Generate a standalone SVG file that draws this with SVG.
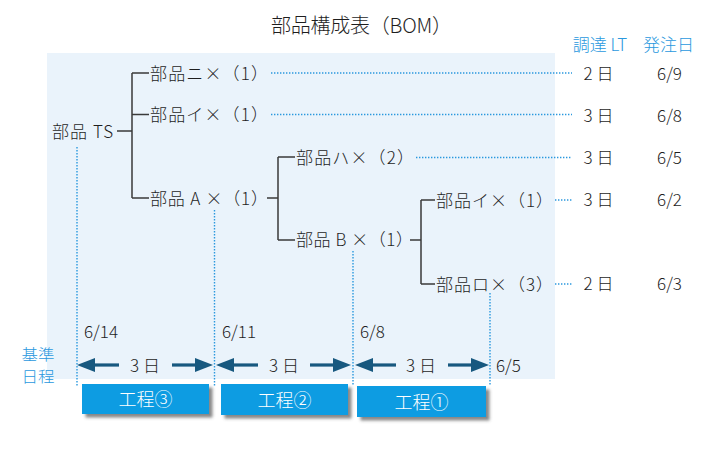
<svg xmlns="http://www.w3.org/2000/svg" width="720" height="458" viewBox="0 0 720 458">
<style>
text{font-family:"Noto Sans CJK JP","Noto Sans",sans-serif;fill:#1e1e1e;font-weight:300}
.lbl{font-size:17px}
.blue{fill:#2a98de;font-size:17px}
.blue2{fill:#2a98de;font-size:15px}
.tree{stroke:#3a3a3a;stroke-width:1.5;fill:none}
.dot{stroke:#2a98de;stroke-width:1.4;stroke-dasharray:1.4 1.6;fill:none}
.arr{fill:#17587f}
.shaft{stroke:#17587f;stroke-width:3.2}
.box{fill:#0b9ce2}
.btxt{fill:#fff;font-size:18px}
</style>
<defs>
<filter id="sh" x="-10%" y="-20%" width="130%" height="160%">
<feDropShadow dx="3.5" dy="3.5" stdDeviation="1.5" flood-color="#555" flood-opacity="0.7"/>
</filter>
</defs>
<rect x="47" y="53" width="508" height="326" fill="#eaf3fb"/>
<text x="271" y="33" font-size="20" textLength="181" lengthAdjust="spacing">部品構成表（BOM）</text>
<text class="blue" x="600" y="51" text-anchor="middle">調達 LT</text>
<text class="blue" x="668.5" y="51" text-anchor="middle">発注日</text>
<text class="blue2" x="38" y="360" text-anchor="middle" textLength="33" lengthAdjust="spacingAndGlyphs">基準</text>
<text class="blue2" x="38" y="382" text-anchor="middle" textLength="33" lengthAdjust="spacingAndGlyphs">日程</text>

<g id="connectors">
<path class="tree" d="M117 131H132M132 73V198M132 73H149M132 114.5H149M132 198H149"/>
<path class="tree" d="M267 198H278M278 157V240M278 157H295M278 240H295"/>
<path class="tree" d="M410 240H421M421 200V284M421 200H435M421 284H435"/>
<path class="dot" d="M271 73H572M271 114.5H572M416 157.5H572M555 200H572M555 284H572"/>
<path class="dot" d="M77 147V386M214.5 210V386M353 251V386M490 293V386"/>
</g>

<g id="n-ts"><text class="lbl" x="52" y="137.5" textLength="61" lengthAdjust="spacing">部品 TS</text></g>
<g id="n-ni"><text class="lbl" x="150" y="79.5" textLength="118" lengthAdjust="spacing">部品ニ×（1）</text></g>
<g id="n-i1"><text class="lbl" x="150" y="121" textLength="118" lengthAdjust="spacing">部品イ×（1）</text></g>
<g id="n-a"><text class="lbl" x="150" y="204.5" textLength="118" lengthAdjust="spacing">部品 A ×（1）</text></g>
<g id="n-ha"><text class="lbl" x="296" y="164" textLength="118" lengthAdjust="spacing">部品ハ×（2）</text></g>
<g id="n-b"><text class="lbl" x="296" y="246" textLength="117" lengthAdjust="spacing">部品 B ×（1）</text></g>
<g id="n-i2"><text class="lbl" x="436" y="206.5" textLength="117" lengthAdjust="spacing">部品イ×（1）</text></g>
<g id="n-ro"><text class="lbl" x="436" y="290.5" textLength="117" lengthAdjust="spacing">部品ロ×（3）</text></g>

<g id="lt">
<text class="lbl" x="598.5" y="80" text-anchor="middle">2 日</text>
<text class="lbl" x="598.5" y="122" text-anchor="middle">3 日</text>
<text class="lbl" x="598.5" y="164" text-anchor="middle">3 日</text>
<text class="lbl" x="598.5" y="206" text-anchor="middle">3 日</text>
<text class="lbl" x="598.5" y="290" text-anchor="middle">2 日</text>
</g>
<g id="order">
<text class="lbl" x="669.5" y="80" text-anchor="middle">6/9</text>
<text class="lbl" x="669.5" y="122" text-anchor="middle">6/8</text>
<text class="lbl" x="669.5" y="164" text-anchor="middle">6/5</text>
<text class="lbl" x="669.5" y="206" text-anchor="middle">6/2</text>
<text class="lbl" x="669.5" y="290" text-anchor="middle">6/3</text>
</g>

<g id="dates">
<text class="lbl" x="84" y="338">6/14</text>
<text class="lbl" x="222" y="338">6/11</text>
<text class="lbl" x="360" y="338">6/8</text>
<text class="lbl" x="496" y="372">6/5</text>
</g>

<g id="span1">
<polygon class="arr" points="77,365 95,358 95,372"/>
<line class="shaft" x1="94" y1="365" x2="119" y2="365"/>
<text class="lbl" x="145" y="372" text-anchor="middle">3 日</text>
<line class="shaft" x1="172" y1="365" x2="196" y2="365"/>
<polygon class="arr" points="213,365 195,358 195,372"/>
</g>
<g id="span2">
<polygon class="arr" points="216,365 234,358 234,372"/>
<line class="shaft" x1="233" y1="365" x2="258" y2="365"/>
<text class="lbl" x="284" y="372" text-anchor="middle">3 日</text>
<line class="shaft" x1="310" y1="365" x2="334" y2="365"/>
<polygon class="arr" points="351,365 333,358 333,372"/>
</g>
<g id="span3">
<polygon class="arr" points="355,365 373,358 373,372"/>
<line class="shaft" x1="372" y1="365" x2="396" y2="365"/>
<text class="lbl" x="421" y="372" text-anchor="middle">3 日</text>
<line class="shaft" x1="448" y1="365" x2="472" y2="365"/>
<polygon class="arr" points="489,365 471,358 471,372"/>
</g>

<g id="p3">
<rect class="box" x="82" y="384" width="127" height="30" filter="url(#sh)"/>
<text class="btxt" x="145.5" y="406" text-anchor="middle">工程③</text>
</g>
<g id="p2">
<rect class="box" x="221" y="384" width="127" height="31" filter="url(#sh)"/>
<text class="btxt" x="284.5" y="406.5" text-anchor="middle">工程②</text>
</g>
<g id="p1">
<rect class="box" x="357" y="386" width="129" height="31" filter="url(#sh)"/>
<text class="btxt" x="421.5" y="408.5" text-anchor="middle">工程①</text>
</g>
</svg>
